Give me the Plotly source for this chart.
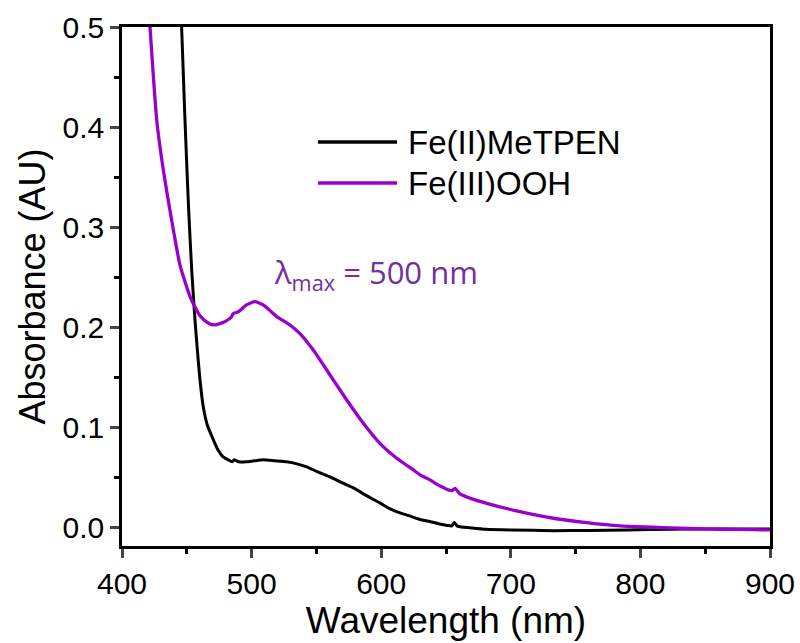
import plotly.graph_objects as go

# Fe(II)MeTPEN (black)
wl_fe2 = [446, 448.6, 451.2, 453.8, 456.3, 458, 460, 462.7, 466, 470.5, 474, 478, 482, 485, 486.5, 490, 496, 502, 509, 518, 527, 535, 542.5, 551, 560.5, 570, 578.5, 589, 599, 607, 614.5, 622, 630, 637.6, 645, 651, 654.4, 656.5, 658.5, 660.8, 670, 681, 700, 733, 760, 790, 823, 860, 900]
ab_fe2 = [0.500, 0.407, 0.324, 0.257, 0.208, 0.180, 0.150, 0.121, 0.102, 0.088, 0.078, 0.071, 0.068, 0.066, 0.068, 0.066, 0.066, 0.067, 0.068, 0.067, 0.066, 0.064, 0.061, 0.056, 0.051, 0.045, 0.040, 0.032, 0.025, 0.019, 0.015, 0.012, 0.0085, 0.0065, 0.004, 0.0025, 0.002, 0.0055, 0.002, 0.0013, 0.000, -0.0013, -0.002, -0.0027, -0.0025, -0.002, -0.0013, -0.001, -0.001]

# Fe(III)OOH (purple)
wl_fe3 = [421.6, 426.8, 431.9, 437, 444.8, 452.5, 460, 466, 470.5, 478, 484, 486, 490, 496, 502.6, 509, 519.4, 529.6, 537.3, 547.6, 560.5, 573.4, 586.2, 599, 612, 624.8, 630, 637.6, 645.4, 654.4, 657, 660.8, 670, 681.4, 707, 732.8, 758.5, 784.3, 810, 823, 850, 875, 900]
ab_fe3 = [0.500, 0.407, 0.357, 0.317, 0.262, 0.231, 0.212, 0.205, 0.2026, 0.205, 0.210, 0.214, 0.216, 0.2226, 0.2259, 0.2226, 0.211, 0.2026, 0.194, 0.1776, 0.1527, 0.1277, 0.1045, 0.0845, 0.0696, 0.0579, 0.053, 0.048, 0.0419, 0.0372, 0.0396, 0.034, 0.029, 0.0246, 0.0163, 0.0097, 0.0053, 0.002, 0.0007, 0.000, -0.001, -0.0015, -0.002]

x_ticks = [400, 500, 600, 700, 800, 900]
y_ticks = [0.0, 0.1, 0.2, 0.3, 0.4, 0.5]
y_tick_labels = ["0.0", "0.1", "0.2", "0.3", "0.4", "0.5"]

series_names = ["Fe(II)MeTPEN", "Fe(III)OOH"]
series_colors = ["black", "#9900CC"]

fig = go.Figure()
fig.add_trace(go.Scatter(x=wl_fe2, y=ab_fe2, mode="lines", name=series_names[0],
                         line=dict(color=series_colors[0], width=3, shape="spline", smoothing=0.5)))
fig.add_trace(go.Scatter(x=wl_fe3, y=ab_fe3, mode="lines", name=series_names[1],
                         line=dict(color=series_colors[1], width=3.3, shape="spline", smoothing=0.5)))

font_main = "Liberation Sans, Arial, sans-serif"
fig.update_layout(
    width=800, height=643,
    margin=dict(l=122, r=30, t=27, b=97),
    paper_bgcolor="white", plot_bgcolor="white",
    font=dict(family=font_main, color="black"),
    showlegend=False,
    xaxis=dict(range=[400, 900], tickvals=x_ticks, ticks="outside", ticklen=9, tickwidth=2.5,
               showline=True, linewidth=2.5, linecolor="black", mirror=True,
               showgrid=False, zeroline=False, automargin=False,
               tickfont=dict(size=30), title=dict(text="Wavelength (nm)", font=dict(size=37), standoff=2),
               minor=dict(dtick=50, ticks="outside", ticklen=5, tickwidth=2.5, tickcolor="black", showgrid=False)),
    yaxis=dict(range=[-0.018, 0.5], tickvals=y_ticks, ticktext=y_tick_labels, ticks="outside", ticklen=9, tickwidth=2.5,
               showline=True, linewidth=2.5, linecolor="black", mirror=True,
               showgrid=False, zeroline=False, automargin=False,
               tickfont=dict(size=30), title=dict(text="Absorbance (AU)", font=dict(size=36), standoff=6),
               minor=dict(dtick=0.05, ticks="outside", ticklen=5, tickwidth=2.5, tickcolor="black", showgrid=False)),
)

# legend drawn in paper coordinates
legend_rows_y = [0.7784, 0.6994]
for name, color, ly in zip(series_names, series_colors, legend_rows_y):
    fig.add_shape(type="line", xref="paper", yref="paper", x0=0.3025, x1=0.4244, y0=ly, y1=ly,
                  line=dict(color=color, width=3.3))
    fig.add_annotation(x=0.4383, y=ly, xref="paper", yref="paper", xanchor="left", yanchor="middle",
                       text=name, showarrow=False, font=dict(size=33, family=font_main, color="black"))

fig.add_annotation(x=515.5, y=0.253, xref="x", yref="y", xanchor="left", yanchor="middle",
                   text="λ<sub>max</sub> = 500 nm", showarrow=False,
                   font=dict(size=31, family="Open Sans, sans-serif", color="#7030A0"))

fig.write_html("out.html")
